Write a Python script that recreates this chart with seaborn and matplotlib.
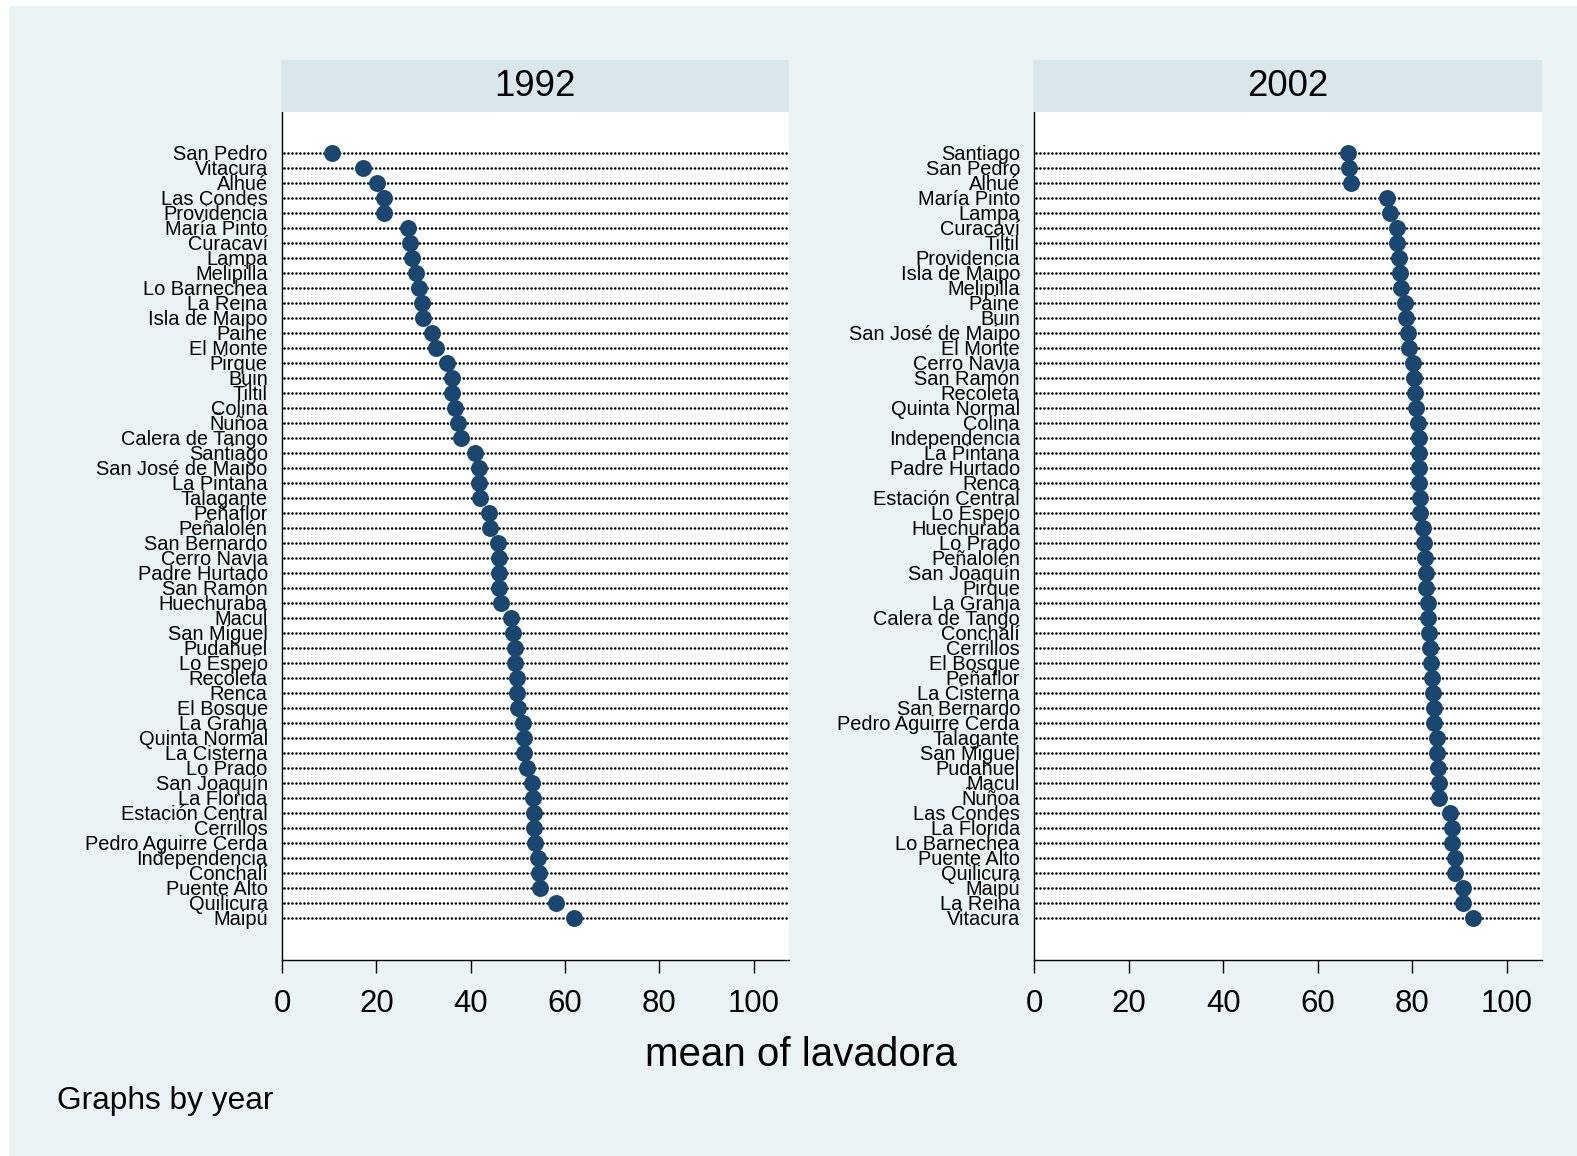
import numpy as np
import pandas as pd
import matplotlib
matplotlib.use("Agg")
import matplotlib.pyplot as plt
from matplotlib.patches import Rectangle
import seaborn as sns

# values (mean of lavadora, %)
names_1992 = [
    "San Pedro", "Vitacura", "Alhué", "Las Condes", "Providencia", "María Pinto",
    "Curacaví", "Lampa", "Melipilla", "Lo Barnechea", "La Reina", "Isla de Maipo",
    "Paine", "El Monte", "Pirque", "Buin", "Tiltil", "Colina", "Ñuñoa",
    "Calera de Tango", "Santiago", "San José de Maipo", "La Pintana", "Talagante",
    "Peñaflor", "Peñalolén", "San Bernardo", "Cerro Navia", "Padre Hurtado",
    "San Ramón", "Huechuraba", "Macul", "San Miguel", "Pudahuel", "Lo Espejo",
    "Recoleta", "Renca", "El Bosque", "La Granja", "Quinta Normal", "La Cisterna",
    "Lo Prado", "San Joaquín", "La Florida", "Estación Central", "Cerrillos",
    "Pedro Aguirre Cerda", "Independencia", "Conchalí", "Puente Alto", "Quilicura",
    "Maipú",
]
vals_1992 = [
    10.5, 17.2, 20.2, 21.7, 21.7, 26.7,
    27.1, 27.5, 28.4, 29.0, 29.6, 29.9,
    31.8, 32.6, 35.0, 36.0, 36.0, 36.7, 37.3,
    38.0, 40.9, 41.8, 41.8, 42.0,
    43.9, 44.1, 45.8, 46.1, 46.1,
    46.1, 46.5, 48.6, 49.0, 49.3, 49.5,
    49.9, 49.9, 50.1, 51.0, 51.2, 51.4,
    52.0, 52.9, 53.3, 53.5, 53.5,
    53.7, 54.2, 54.4, 54.6, 58.0,
    61.8,
]

names_2002 = [
    "Santiago", "San Pedro", "Alhué", "María Pinto", "Lampa", "Curacaví", "Tiltil",
    "Providencia", "Isla de Maipo", "Melipilla", "Paine", "Buin",
    "San José de Maipo", "El Monte", "Cerro Navia", "San Ramón", "Recoleta",
    "Quinta Normal", "Colina", "Independencia", "La Pintana", "Padre Hurtado",
    "Renca", "Estación Central", "Lo Espejo", "Huechuraba", "Lo Prado",
    "Peñalolén", "San Joaquín", "Pirque", "La Granja", "Calera de Tango",
    "Conchalí", "Cerrillos", "El Bosque", "Peñaflor", "La Cisterna",
    "San Bernardo", "Pedro Aguirre Cerda", "Talagante", "San Miguel", "Pudahuel",
    "Macul", "Ñuñoa", "Las Condes", "La Florida", "Lo Barnechea", "Puente Alto",
    "Quilicura", "Maipú", "La Reina", "Vitacura",
]
vals_2002 = [
    66.4, 66.7, 67.0, 74.6, 75.3, 76.8, 76.8,
    77.2, 77.4, 77.6, 78.5, 78.7,
    79.1, 79.3, 80.2, 80.4, 80.6,
    80.8, 81.2, 81.4, 81.4, 81.4,
    81.4, 81.7, 81.7, 82.3, 82.5,
    82.7, 82.9, 82.9, 83.4, 83.4,
    83.6, 83.8, 84.0, 84.2, 84.4,
    84.6, 84.6, 85.3, 85.3, 85.5,
    85.7, 85.7, 88.1, 88.5, 88.5, 89.1,
    89.1, 90.8, 90.8, 92.9,
]

years = ["1992", "2002"]
NAVY = "#1a476f"
OUTER = "#EAF2F3"
STRIP = "#D9E6EB"

plt.rcParams["font.family"] = ["Liberation Sans", "DejaVu Sans"]

W, H = 1577, 1156
fig = plt.figure(figsize=(W / 100, H / 100), dpi=100, facecolor="white")
fig.patches.append(Rectangle((9 / W, 0), 1 - 9 / W, 1 - 6 / H, transform=fig.transFigure,
                             facecolor=OUTER, edgecolor="none", zorder=-5))


def px_box(x0, x1, y0, y1):
    return [x0 / W, 1 - y1 / H, (x1 - x0) / W, (y1 - y0) / H]


panels = [
    (names_1992, vals_1992, 282.0, 788.6),
    (names_2002, vals_2002, 1034.2, 1541.6),
]
XMAX = 107.4

for (names, vals, x0, x1), yr in zip(panels, years):
    df = pd.DataFrame({"municipio": names, "lavadora": vals})
    n = len(df)

    ax = fig.add_axes(px_box(x0, x1, 112, 960))
    ax.set_facecolor("white")
    for i in range(n):
        ax.plot([0.35, XMAX], [i, i], color="black", lw=1.9, linestyle=(0, (0.01, 1.5)),
                dash_capstyle="round", zorder=1)
    sns.stripplot(data=df, x="lavadora", y="municipio", order=names, ax=ax,
                  jitter=False, size=12.2, color=NAVY, linewidth=0, zorder=3)
    ax.set_xlim(0, XMAX)
    ax.set_ylim(n - 1 + 2.82, -2.71)
    ax.set_xticks([0, 20, 40, 60, 80, 100])
    ax.tick_params(axis="x", length=9.6, width=1.0, pad=11, labelsize=22.4, direction="out")
    ax.tick_params(axis="y", length=0, pad=10.3, labelsize=14.4)
    ax.set_xlabel("")
    ax.set_ylabel("")
    for s in ["top", "right"]:
        ax.spines[s].set_visible(False)
    for s in ["left", "bottom"]:
        ax.spines[s].set_linewidth(1.0)
        ax.spines[s].set_color("black")

    sax = fig.add_axes(px_box(x0 - 1, x1 + 0.7, 60, 112))
    sax.set_facecolor(STRIP)
    sax.set_xticks([])
    sax.set_yticks([])
    for s in sax.spines.values():
        s.set_visible(False)
    sax.text(0.5, 0.5, yr, ha="center", va="center", fontsize=26.4, transform=sax.transAxes)

fig.text(801 / W, 1 - 1055 / H, "mean of lavadora", ha="center", va="center", fontsize=29)
fig.text(57 / W, 1 - 1101 / H, "Graphs by year", ha="left", va="center", fontsize=22.8)

fig.savefig("out.png", dpi=100, facecolor=fig.get_facecolor())
